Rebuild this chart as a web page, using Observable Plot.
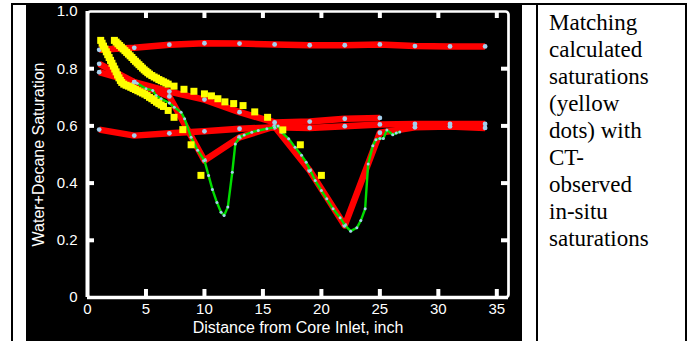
<!DOCTYPE html>
<html><head><meta charset="utf-8">
<script src="https://cdn.jsdelivr.net/npm/d3@7"></script>
<script src="https://cdn.jsdelivr.net/npm/@observablehq/plot@0.6"></script>
<style>
html,body{margin:0;padding:0;background:#fff;width:688px;height:341px;overflow:hidden;}
.bl{position:absolute;background:#000;}
#chartbg{position:absolute;left:26px;top:4px;width:496px;height:337px;background:#000;}
#chart{position:absolute;left:26px;top:0px;width:496px;height:341px;}
#chart svg{display:block;overflow:visible;}
#note{position:absolute;left:549px;top:9px;font-family:"Liberation Serif","Times New Roman",serif;font-size:23px;line-height:27px;color:#000;white-space:nowrap;}
</style></head><body>
<div class="bl" style="left:11px;top:3px;width:2px;height:338px"></div>
<div class="bl" style="left:11px;top:3px;width:676px;height:2px"></div>
<div class="bl" style="left:536px;top:3px;width:2px;height:338px"></div>
<div class="bl" style="left:685px;top:3px;width:2px;height:338px"></div>
<div id="chartbg"></div>
<div id="chart"></div>
<div id="note">Matching<br>calculated<br>saturations<br>(yellow<br>dots) with<br>CT-<br>observed<br>in-situ<br>saturations</div>
<script>
// ---- data ----
const xTitle = "Distance from Core Inlet, inch";
const yTitle = "Water+Decane Saturation";
const xTickValues = [0, 5, 10, 15, 20, 25, 30, 35];
const yTickValues = [0, 0.2, 0.4, 0.6, 0.8, 1.0];
const yTickLabels = ["0", "0.2", "0.4", "0.6", "0.8", "1.0"];
const innerXTicks = [5, 10, 15, 20, 25, 30, 35];
const innerYTicks = [0.2, 0.4, 0.6, 0.8];

// CT-observed profiles (red lines with blue dots)
const profileX = [1, 4, 7, 10, 13, 16, 19, 22, 25, 28, 31, 34];
const initialSat = [0.866, 0.873, 0.884, 0.889, 0.888, 0.885, 0.882, 0.882, 0.885, 0.879, 0.878, 0.878];
const finalSat   = [0.587, 0.566, 0.574, 0.581, 0.590, 0.595, 0.593, 0.599, 0.605, 0.607, 0.607, 0.607];
const dipSat     = [0.817, 0.753, 0.703, 0.479, 0.560, 0.598, 0.444, 0.252, 0.576, 0.595, 0.598, 0.593];
const diagX      = [1, 4, 7, 10, 13, 16, 19, 22, 25];
const diagSat    = [0.788, 0.753, 0.720, 0.692, 0.648, 0.612, 0.615, 0.625, 0.628];

// fine CT profile (green line with small dots)
const fineX = [4.25, 5.0, 5.58, 5.87, 6.3, 7.0, 7.42, 8.0, 8.3, 8.86, 9.42, 10.0, 10.35, 10.68, 11.07, 11.42, 11.68, 12.0, 12.38, 12.64, 13.0, 13.4, 14.05, 14.6, 15.34, 16.0, 16.3, 16.6, 17.2, 17.75, 18.3, 18.7, 19.05, 19.47, 20.0, 20.46, 21.0, 21.6, 22.03, 22.5, 23.03, 23.37, 23.74, 24.0, 24.4, 24.66, 25.0, 25.3, 25.6, 26.1, 26.4, 26.7];
const fineSat = [0.749, 0.730, 0.724, 0.706, 0.695, 0.680, 0.665, 0.648, 0.625, 0.560, 0.515, 0.479, 0.427, 0.378, 0.332, 0.298, 0.287, 0.316, 0.438, 0.537, 0.560, 0.568, 0.578, 0.584, 0.590, 0.595, 0.600, 0.578, 0.555, 0.525, 0.497, 0.473, 0.444, 0.409, 0.374, 0.345, 0.310, 0.279, 0.252, 0.232, 0.244, 0.269, 0.310, 0.467, 0.531, 0.552, 0.556, 0.556, 0.586, 0.569, 0.575, 0.579];

// calculated saturations (yellow squares)
const calcAX = [1.13, 1.25, 1.37, 1.49, 1.61, 1.73, 1.85, 1.97, 2.09, 2.21, 2.33, 2.45, 2.57, 2.69, 2.81, 2.93, 3.1, 3.3, 3.5, 3.7, 3.9, 4.1, 4.3, 4.5, 4.7, 4.9, 5.1, 5.3, 5.5, 5.7, 5.9, 6.1, 6.3, 6.5, 6.9, 7.4, 8.15, 8.86, 9.7];
const calcASat = [0.899, 0.889, 0.879, 0.869, 0.859, 0.849, 0.839, 0.829, 0.819, 0.809, 0.799, 0.789, 0.778, 0.768, 0.759, 0.752, 0.746, 0.742, 0.739, 0.735, 0.731, 0.727, 0.723, 0.719, 0.715, 0.711, 0.706, 0.700, 0.695, 0.689, 0.683, 0.678, 0.673, 0.668, 0.654, 0.630, 0.587, 0.534, 0.427];
const calcBX = [2.3, 2.45, 2.6, 2.75, 2.9, 3.05, 3.2, 3.35, 3.5, 3.65, 3.8, 3.95, 4.1, 4.25, 4.4, 4.55, 4.7, 4.85, 5.0, 5.15, 5.3, 5.5, 5.7, 5.9, 6.1, 6.3, 6.5, 6.7, 6.9, 7.4, 8.25, 9.1, 10.0, 10.6, 11.15, 11.75, 12.5, 13.3, 14.3, 15.4, 16.7, 18.2, 20.0];
const calcBSat = [0.899, 0.893, 0.887, 0.881, 0.875, 0.869, 0.863, 0.857, 0.851, 0.845, 0.839, 0.832, 0.826, 0.820, 0.814, 0.808, 0.802, 0.796, 0.791, 0.786, 0.781, 0.776, 0.771, 0.767, 0.762, 0.758, 0.754, 0.750, 0.746, 0.739, 0.728, 0.721, 0.712, 0.705, 0.695, 0.684, 0.678, 0.671, 0.649, 0.630, 0.586, 0.534, 0.427];

// ---- tables ----
const rows = (xs, ys) => xs.map((x, i) => ({x, y: ys[i]}));
const initial = rows(profileX, initialSat);
const final = rows(profileX, finalSat);
const dip = rows(profileX, dipSat);
const diag = rows(diagX, diagSat);
const fine = rows(fineX, fineSat);
const calcA = rows(calcAX, calcASat);
const calcB = rows(calcBX, calcBSat);

const RED = "#ff0000", BLUE = "#a4cfec", GREEN = "#00dd00", YEL = "#ffff00", W = "#ffffff";
const font = "Liberation Sans, Arial, Helvetica, sans-serif";
const redLine = d => Plot.line(d, {x: "x", y: "y", stroke: RED, strokeWidth: 6.5, strokeLinejoin: "round", strokeLinecap: "butt"});
const blueDots = d => Plot.dot(d, {x: "x", y: "y", r: 2.4, fill: BLUE, stroke: "none"});

const chart = Plot.plot({
  width: 496, height: 341,
  marginLeft: 61, marginRight: 14, marginTop: 11, marginBottom: 44,
  x: {domain: [0, 36], axis: null},
  y: {domain: [0, 1], axis: null},
  style: {background: "transparent", color: W, fontFamily: font, fontSize: "15px"},
  marks: [
    redLine(initial), redLine(final), redLine(diag), redLine(dip),
    blueDots(initial), blueDots(final), blueDots(diag), blueDots(dip),
    Plot.line(fine, {x: "x", y: "y", stroke: GREEN, strokeWidth: 2.4}),
    Plot.dot(fine, {x: "x", y: "y", r: 1.5, fill: BLUE, stroke: "none"}),
    Plot.dot(calcA, {x: "x", y: "y", symbol: "square", r: 3.95, fill: YEL, stroke: "none"}),
    Plot.dot(calcB, {x: "x", y: "y", symbol: "square", r: 3.95, fill: YEL, stroke: "none"}),
    // frame & ticks
    Plot.frame({stroke: W, strokeWidth: 2.7, rx: 3}),
    Plot.ruleX([0], {stroke: W, strokeWidth: 4}),
    Plot.ruleY([0], {stroke: W, strokeWidth: 3.5}),
    Plot.ruleX(innerXTicks, {x: d => d, stroke: W, strokeWidth: 4, insetTop: 278}),
    Plot.ruleX(innerXTicks, {x: d => d, stroke: W, strokeWidth: 4, insetBottom: 279}),
    Plot.ruleY(innerYTicks, {y: d => d, stroke: W, strokeWidth: 4, insetRight: 414}),
    Plot.ruleY(innerYTicks, {y: d => d, stroke: W, strokeWidth: 4, insetLeft: 414}),
    // tick labels
    Plot.text(xTickValues, {x: d => d, text: d => String(d), frameAnchor: "bottom", lineAnchor: "top", dy: 6, fill: W, fontSize: 15}),
    Plot.text(yTickValues, {y: d => d, text: (d, i) => yTickLabels[i], frameAnchor: "left", textAnchor: "end", dx: -10, fill: W, fontSize: 15}),
    // titles
    Plot.text([xTitle], {text: d => d, frameAnchor: "bottom", lineAnchor: "middle", textAnchor: "middle", dy: 30.5, fill: W, fontSize: 16, letterSpacing: 0.45}),
    Plot.text([yTitle], {text: d => d, frameAnchor: "left", lineAnchor: "middle", textAnchor: "middle", rotate: -90, dx: -49, fill: W, fontSize: 16})
  ]
});
document.getElementById("chart").appendChild(chart);
</script>
</body></html>
